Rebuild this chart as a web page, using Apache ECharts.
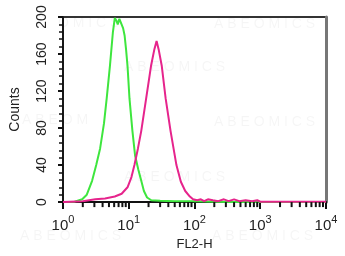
<!DOCTYPE html>
<html><head><meta charset="utf-8">
<script src="https://cdn.jsdelivr.net/npm/echarts@6/dist/echarts.min.js"></script>
<style>html,body{margin:0;padding:0;background:#fff}#c{width:345px;height:256px}</style>
</head><body><div id="c"></div>
<script>
// Data
const greenX = [1, 1.5, 1.96, 2.3, 2.77, 3.2, 3.67, 4.2, 4.62, 5.17, 5.73, 6.14, 6.5, 6.8, 7.2, 7.72, 8.2, 8.65, 9.1, 9.58, 10.26, 11.37, 12.5, 14, 15.5, 17, 19, 22, 30, 50, 100, 200, 400, 10000];
const greenY = [0, 0.5, 3, 8, 23, 40, 58, 85, 112, 147, 183, 199, 196, 192, 198, 199, 188, 180, 165, 147, 112, 77, 50, 35, 23, 12, 5, 2, 1.5, 1, 1, 0.5, 0, 0];
const magentaX = [1, 2, 3.1, 4.36, 6.14, 7.8, 9.58, 11, 12.2, 13.8, 15.5, 18.4, 21.8, 24.5, 26.5, 28.5, 31.8, 36.4, 43.2, 53.1, 62, 72.3, 85, 95, 110, 125, 140, 160, 190, 230, 280, 330, 400, 480, 600, 750, 900, 1000, 10000];
const magentaY = [0, 1, 3, 4, 6, 9, 16, 27, 40, 58, 77, 112, 147, 165, 174, 165, 147, 112, 77, 40, 22, 12, 6, 3, 2, 3, 1, 3, 2, 1, 3, 1, 3, 1, 2, 1, 2, 0.5, 0.5];
const xMinorTicks = [2,3,4,5,6,7,8,9,20,30,40,50,60,70,80,90,200,300,400,500,600,700,800,900,2000,3000,4000,5000,6000,7000,8000,9000];
const yTicks = [0, 40, 80, 120, 160, 200];

const pairs = (xs, ys) => xs.map((x, i) => [x, ys[i]]);
const chart = echarts.init(document.getElementById('c'), null, {renderer: 'canvas'});
const wm = (x, y, t) => ({type: 'text', left: x, top: y, z: -10, silent: true,
  style: {text: t, fill: 'rgba(0,0,0,0.04)', font: '14px "Liberation Sans"'}});
chart.setOption({
  animation: false,
  grid: {left: 57, top: 17, right: 19, bottom: 51, show: true, borderColor: '#333', borderWidth: 2},
  graphic: [
    wm(58, 16, 'O M I C S'), wm(214, 17, 'A B E O M I C S'),
    wm(124, 60, 'A B E O M I C S'),
    wm(22, 113, 'A B E O M'), wm(214, 115, 'A B E O M I C S'),
    wm(124, 170, 'A B E O M I C S'),
    wm(20, 229, 'A B E O M I C S'), wm(212, 229, 'A B E O M I C S')
  ],
  xAxis: [{
    type: 'log', logBase: 10, min: 1, max: 10000,
    name: 'FL2-H', nameLocation: 'middle', nameGap: 32,
    nameTextStyle: {color: '#222', fontSize: 13, fontFamily: 'Liberation Sans'},
    axisLine: {show: true, lineStyle: {color: '#111', width: 2}},
    axisTick: {show: true, inside: false, length: 7, lineStyle: {color: '#111', width: 2}},
    splitLine: {show: false}, minorTick: {show: false},
    axisLabel: {
      margin: 12, color: '#222',
      formatter: v => '{b|10}{s|' + Math.round(Math.log10(v)) + '}',
      rich: {b: {fontSize: 15, fontFamily: 'Liberation Sans', color: '#222', verticalAlign: 'bottom'},
             s: {fontSize: 11, fontFamily: 'Liberation Sans', color: '#222', verticalAlign: 'top', padding: [0,0,8,0]}}
    }
  }],
  yAxis: [{
    type: 'value', min: 0, max: 200, interval: 40,
    name: 'Counts', nameLocation: 'middle', nameGap: 41, nameRotate: 90,
    nameTextStyle: {color: '#222', fontSize: 14, fontFamily: 'Liberation Sans Narrow, Liberation Sans'},
    axisLine: {show: true, lineStyle: {color: '#111', width: 1.5}},
    axisTick: {show: true, length: 5, lineStyle: {color: '#111', width: 2}},
    minorTick: {show: true, splitNumber: 5, length: 4, lineStyle: {color: '#111', width: 1.5}},
    splitLine: {show: false},
    axisLabel: {rotate: 90, margin: 14, color: '#222', fontSize: 14, fontFamily: 'Liberation Sans Narrow, Liberation Sans',
      formatter: v => yTicks.includes(v) ? String(v) : ''}
  }, {
    type: 'value', min: 0, max: 200, position: 'right',
    axisLine: {show: true, lineStyle: {color: '#777', width: 3}},
    axisTick: {show: false}, axisLabel: {show: false}, splitLine: {show: false}
  }],
  series: [
    {type: 'line', data: pairs(greenX, greenY), symbol: 'none', lineStyle: {color: '#3ee63e', width: 2}, z: 3},
    {type: 'line', data: pairs(magentaX, magentaY), symbol: 'none', lineStyle: {color: '#e6248c', width: 2}, z: 4},
    {type: 'custom', data: xMinorTicks.map(v => [v, 0]), clip: false, silent: true, z: 5,
      renderItem: (params, api) => {
        const p = api.coord([api.value(0), 0]);
        return {type: 'line', shape: {x1: p[0], y1: p[1], x2: p[0], y2: p[1] + 5},
          style: {stroke: '#111', lineWidth: 2}};
      }}
  ]
});
</script></body></html>
